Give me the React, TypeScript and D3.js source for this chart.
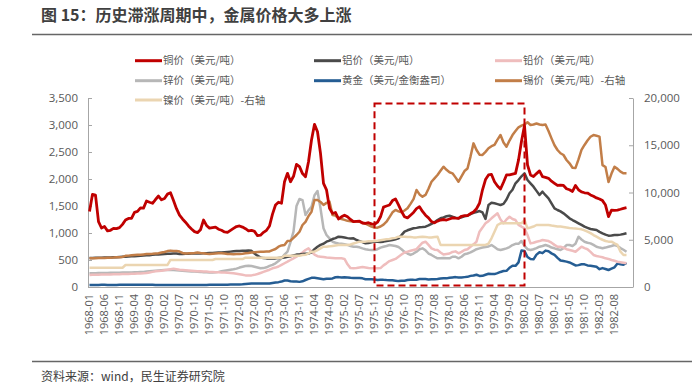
import React, { useRef, useEffect } from 'react'
import * as d3 from 'd3'

// monthly categories, 1968-01 .. 1982-12
const months = d3.range(180).map((i) => `${1968 + Math.floor(i / 12)}-${String((i % 12) + 1).padStart(2, '0')}`)

// 铜价 (USD/t, left axis)
const copper = [
  1400, 1716, 1700, 1210, 1093, 1120, 1040, 1050, 1085, 1080, 1100, 1160,
  1240, 1270, 1270, 1383, 1400, 1465, 1460, 1593, 1570, 1550, 1620, 1685,
  1615, 1640, 1720, 1746, 1600, 1450, 1330, 1260, 1200, 1130, 1075, 1025,
  1007, 1060, 1240, 1140, 1090, 1100, 1110, 1070, 1050, 1020, 1012, 1050,
  1086, 1120, 1130, 1110, 1080, 1040, 1050, 1030, 950, 960, 1012, 1050,
  1130, 1350, 1518, 1570, 1550, 1950, 2105, 1950, 2050, 2272, 2230, 2100,
  2043, 2320, 2722, 3012, 2876, 2475, 1920, 1800, 1457, 1364, 1380, 1260,
  1300, 1330, 1300, 1250, 1210, 1215, 1220, 1185, 1180, 1190, 1170, 1160,
  1200, 1300, 1480, 1500, 1518, 1600, 1630, 1520, 1400, 1302, 1280, 1330,
  1380, 1450, 1487, 1400, 1330, 1280, 1210, 1190, 1220, 1240, 1250, 1240,
  1260, 1280, 1275, 1272, 1310, 1320, 1320, 1360, 1390, 1450, 1550, 1800,
  1990, 2075, 2085, 1950, 1870, 1815, 1940, 2075, 2075, 2090, 2105, 2350,
  2700, 2990, 2260, 2075, 2045, 2100, 2150, 2045, 2030, 2012, 1960, 1920,
  1880, 1885, 1880, 1820, 1800, 1770, 1880, 1800, 1760, 1745, 1740, 1705,
  1680, 1650, 1630, 1600, 1518, 1302, 1425, 1420, 1425, 1440, 1457, 1470,
]

// 铝价 (left)
const aluminum = [
  535, 535, 540, 540, 540, 545, 545, 545, 550, 550, 555, 560,
  560, 565, 570, 570, 575, 580, 585, 590, 590, 595, 600, 600,
  605, 610, 615, 615, 620, 620, 610, 610, 615, 615, 620, 620,
  620, 620, 625, 625, 630, 630, 635, 640, 640, 645, 650, 655,
  660, 665, 665, 670, 670, 675, 670, 620, 580, 545, 535, 530,
  530, 530, 530, 535, 540, 545, 560, 570, 585, 600, 600, 610,
  615, 620, 640, 700, 746, 780, 800, 839, 860, 889, 905, 932,
  925, 915, 905, 900, 902, 870, 850, 830, 808, 815, 830, 840,
  840, 835, 840, 850, 860, 870, 885, 902, 960, 1025, 1050, 1070,
  1087, 1095, 1105, 1110, 1117, 1140, 1170, 1198, 1240, 1272, 1290, 1310,
  1320, 1300, 1285, 1272, 1290, 1310, 1320, 1350, 1375, 1390, 1407, 1380,
  1260, 1518, 1560, 1550, 1535, 1519, 1540, 1620, 1735, 1800, 1920, 1980,
  2050, 2106, 1982, 1920, 1858, 1780, 1704, 1765, 1700, 1642, 1550, 1457,
  1426, 1400, 1364, 1320, 1272, 1240, 1210, 1180, 1150, 1117, 1095, 1074,
  1065, 1055, 1020, 994, 970, 951, 955, 963, 965, 970, 980, 994,
]

// 铅价 (left)
const lead = [
  222, 225, 225, 228, 230, 230, 232, 232, 235, 235, 238, 240,
  240, 242, 245, 245, 248, 250, 255, 260, 270, 280, 290, 295,
  300, 310, 320, 330, 340, 330, 320, 315, 310, 305, 300, 295,
  290, 290, 285, 285, 280, 280, 275, 275, 270, 270, 265, 260,
  255, 245, 235, 225, 215, 212, 215, 225, 240, 260, 280, 300,
  320, 346, 360, 380, 410, 440, 469, 500, 530, 562, 600, 640,
  685, 716, 650, 600, 570, 562, 555, 545, 540, 535, 531, 531,
  531, 520, 420, 350, 346, 350, 360, 370, 360, 350, 346, 346,
  346, 350, 400, 438, 480, 500, 520, 560, 600, 640, 654, 670,
  685, 700, 760, 820, 839, 780, 716, 690, 685, 640, 600, 610,
  620, 650, 660, 624, 650, 685, 700, 746, 790, 839, 1024, 1100,
  1180, 1220, 1272, 1320, 1364, 1250, 1180, 1250, 1302, 1260, 1240, 1150,
  1117, 1086, 963, 808, 820, 839, 850, 870, 860, 850, 820, 780,
  746, 746, 730, 700, 685, 670, 654, 700, 746, 720, 700, 650,
  593, 575, 562, 550, 531, 520, 500, 485, 469, 460, 450, 440,
]

// 锌价 (left)
const zinc = [
  253, 255, 255, 258, 258, 260, 260, 262, 262, 265, 265, 268,
  268, 270, 270, 272, 275, 278, 280, 285, 290, 295, 300, 305,
  310, 315, 315, 318, 315, 310, 305, 300, 295, 290, 288, 285,
  282, 280, 275, 272, 270, 270, 272, 280, 290, 300, 310, 320,
  327, 340, 360, 376, 390, 395, 390, 375, 360, 346, 350, 365,
  390, 410, 438, 480, 531, 600, 654, 830, 1024, 1500, 1630, 1610,
  1333, 1420, 1487, 1700, 1778, 1457, 1087, 963, 900, 839, 820, 808,
  800, 790, 780, 760, 746, 746, 735, 716, 700, 690, 685, 685,
  700, 730, 746, 760, 777, 770, 760, 740, 700, 650, 620, 593,
  620, 654, 700, 716, 680, 620, 593, 560, 531, 531, 535, 531,
  531, 560, 560, 531, 560, 605, 620, 640, 670, 700, 715, 730,
  740, 750, 777, 740, 700, 685, 700, 716, 740, 777, 800, 800,
  852, 760, 700, 685, 700, 720, 746, 760, 777, 760, 730, 716,
  700, 685, 720, 777, 777, 760, 800, 932, 880, 839, 820, 808,
  780, 746, 730, 716, 730, 746, 760, 777, 760, 720, 690, 654,
]

// 黄金 (USD/oz, left)
const gold = [
  35, 37, 38, 38, 40, 41, 39, 39, 39, 39, 40, 41,
  42, 42, 43, 43, 43, 41, 42, 41, 41, 40, 36, 35,
  35, 35, 36, 36, 36, 36, 35, 35, 36, 37, 37, 37,
  38, 38, 38, 39, 40, 40, 41, 42, 42, 42, 43, 44,
  46, 48, 48, 49, 54, 60, 65, 67, 65, 64, 63, 64,
  65, 74, 84, 90, 100, 120, 120, 106, 103, 100, 95, 106,
  130, 150, 170, 172, 163, 154, 143, 154, 151, 158, 181, 183,
  176, 179, 178, 170, 167, 165, 166, 160, 144, 143, 142, 139,
  131, 132, 132, 128, 126, 125, 117, 109, 114, 116, 130, 134,
  132, 136, 148, 149, 146, 141, 143, 145, 149, 158, 162, 160,
  173, 178, 183, 175, 177, 183, 188, 206, 212, 227, 206, 207,
  227, 245, 242, 239, 257, 279, 295, 300, 355, 392, 392, 456,
  675, 665, 555, 517, 513, 600, 645, 627, 674, 661, 623, 595,
  540, 490, 480, 470, 455, 430, 400, 405, 420, 420, 400, 395,
  384, 374, 330, 350, 334, 315, 339, 364, 436, 422, 414, 444,
]

// 锡价 (right axis)
const tin = [
  3040, 3050, 3050, 3060, 3070, 3080, 3100, 3100, 3120, 3150, 3150, 3180,
  3300, 3320, 3350, 3380, 3400, 3420, 3450, 3480, 3500, 3520, 3550, 3580,
  3650, 3700, 3800, 3850, 3800, 3820, 3750, 3600, 3550, 3560, 3580, 3600,
  3650, 3600, 3560, 3520, 3500, 3520, 3540, 3560, 3580, 3550, 3500, 3480,
  3460, 3480, 3500, 3520, 3560, 3600, 3650, 3680, 3700, 3720, 3740, 3760,
  3760, 3900, 4020, 4270, 4400, 4450, 4870, 4900, 5200, 5500, 5850, 6560,
  6900, 7500, 7970, 9200, 9200, 9000, 8680, 8900, 9030, 7620, 7550, 7300,
  7200, 7100, 7000, 6950, 6900, 6950, 6900, 6800, 6700, 6550, 6400, 6300,
  6280, 6400, 6600, 6910, 7400, 7900, 8150, 8000, 7900, 8100, 8330, 8800,
  9300, 10260, 9800, 9560, 9740, 10400, 11140, 11500, 11850, 12300, 12730, 12400,
  12140, 12030, 11600, 11140, 11700, 12270, 12540, 13800, 15200, 14500, 14000, 13970,
  14300, 14680, 14900, 15030, 15600, 16080, 15300, 14850, 15500, 16080, 16500, 16900,
  17070, 17200, 17430, 17140, 17200, 17300, 17200, 17140, 17200, 16500, 15730, 15000,
  14500, 14150, 13970, 13440, 13090, 12620, 12600, 13500, 14500, 15030, 15500, 15900,
  16080, 16000, 15910, 12900, 12700, 11100, 12000, 12730, 12500, 12200, 12030, 12030,
]

// 镍价 (right axis)
const nickel = [
  2040, 2040, 2040, 2040, 2040, 2040, 2040, 2040, 2040, 2040, 2040, 2040,
  2330, 2330, 2330, 2330, 2330, 2330, 2330, 2330, 2330, 2330, 2330, 2330,
  2330, 2330, 2330, 2860, 2860, 2860, 2860, 2860, 2860, 2860, 2860, 2860,
  2860, 2860, 2860, 2860, 2860, 2860, 2960, 2960, 2960, 2960, 2960, 2960,
  2960, 2960, 2960, 2960, 3100, 3100, 3100, 3100, 3100, 3100, 3100, 3100,
  3100, 3100, 3100, 3100, 3100, 3310, 3310, 3310, 3310, 3310, 3310, 3390,
  3400, 3560, 3740, 3740, 3910, 4090, 4270, 4270, 4300, 4350, 4400, 4450,
  4450, 4450, 4450, 4500, 4600, 4700, 4800, 4800, 4800, 4850, 4850, 4870,
  4900, 4950, 5000, 5050, 5080, 5150, 5200, 5330, 5330, 5330, 5300, 5300,
  5250, 5250, 5300, 5330, 5300, 5250, 5230, 5300, 5330, 4450, 4450, 4450,
  4450, 4450, 4450, 4450, 4450, 4450, 4450, 4450, 4450, 4450, 4450, 4450,
  4450, 4600, 5150, 5850, 6560, 6740, 6740, 6740, 6740, 6740, 6740, 6740,
  6740, 7090, 6210, 6300, 6400, 6560, 6560, 6560, 6560, 6560, 6500, 6450,
  6400, 6390, 6350, 6300, 6250, 6210, 6200, 6150, 6100, 6000, 5860, 5700,
  5500, 5330, 5150, 5000, 4870, 4800, 4800, 4620, 4450, 3740, 3390, 3390,
]

const leftTicks = [0, 500, 1000, 1500, 2000, 2500, 3000, 3500]
const rightTicks = [0, 5000, 10000, 15000, 20000]

// highlighted stagflation window
const highlight = { from: '1975-12', to: '1980-02', top: 3400, bottom: 30 }

const series = [
  { name: '铜价（美元/吨）', values: copper, color: '#C00000', axis: 'left', z: 6 },
  { name: '铝价（美元/吨）', values: aluminum, color: '#4A4A4A', axis: 'left', z: 3 },
  { name: '铅价（美元/吨）', values: lead, color: '#EFBDBD', axis: 'left', z: 2 },
  { name: '锌价（美元/吨）', values: zinc, color: '#B7B7B7', axis: 'left', z: 1 },
  { name: '黄金（美元/金衡盎司）', values: gold, color: '#255D93', axis: 'left', z: 0 },
  { name: '锡价（美元/吨）-右轴', values: tin, color: '#C27E48', axis: 'right', z: 5 },
  { name: '镍价（美元/吨）-右轴', values: nickel, color: '#EBD5B1', axis: 'right', z: 4 },
]

const FONT = '"Open Sans", "Noto Sans CJK SC", sans-serif'
const CJK = '"Noto Sans CJK SC", sans-serif'

const App = () => {
  const svgRef = useRef(null)

  useEffect(() => {
    document.body.style.margin = '0'
    const svg = d3.select(svgRef.current)
    svg.selectAll('*').remove()

    const left = 88, right = 633, top = 98, bottom = 287

    const x = d3.scalePoint().domain(months).range([89.5, 626.5])
    const yL = d3.scaleLinear().domain([0, 3500]).range([bottom, top])
    const yR = d3.scaleLinear().domain([0, 20000]).range([bottom, top])

    svg.append('rect').attr('width', 700).attr('height', 392).attr('fill', '#fff')

    // title + rules
    svg.append('text')
      .attr('x', 41).attr('y', 21)
      .attr('font-family', CJK).attr('font-size', 16).attr('font-weight', 'bold')
      .attr('fill', '#404040')
      .text('图 15：历史滞涨周期中，金属价格大多上涨')
    svg.append('line').attr('x1', 32).attr('x2', 692).attr('y1', 34.5).attr('y2', 34.5)
      .attr('stroke', '#666').attr('stroke-width', 1.5)
    svg.append('line').attr('x1', 32).attr('x2', 692).attr('y1', 361.5).attr('y2', 361.5)
      .attr('stroke', '#666').attr('stroke-width', 1.5)
    svg.append('text')
      .attr('x', 41).attr('y', 381)
      .attr('font-family', CJK).attr('font-size', 12)
      .attr('fill', '#404040')
      .text('资料来源：wind，民生证券研究院')

    // axes
    const axisL = svg.append('g').attr('transform', `translate(${left},0)`)
      .call(d3.axisLeft(yL).tickValues(leftTicks).tickSize(-4).tickSizeOuter(0).tickPadding(10).tickFormat(d3.format(',')))
    const axisR = svg.append('g').attr('transform', `translate(${right},0)`)
      .call(d3.axisRight(yR).tickValues(rightTicks).tickSize(-4).tickSizeOuter(0).tickPadding(11).tickFormat(d3.format(',')))
    ;[axisL, axisR].forEach((g) => {
      g.select('.domain').attr('stroke', '#A6A6A6')
      g.selectAll('.tick line').attr('stroke', '#A6A6A6')
      g.selectAll('.tick text').attr('fill', '#595959').attr('font-family', FONT).attr('font-size', 11.5)
    })
    svg.append('line').attr('x1', left).attr('x2', right).attr('y1', bottom + 0.5).attr('y2', bottom + 0.5)
      .attr('stroke', '#A6A6A6')

    svg.append('g').selectAll('text')
      .data(months.filter((_, i) => i % 5 === 0))
      .join('text')
      .attr('transform', (d) => `translate(${x(d)},294) rotate(-90)`)
      .attr('text-anchor', 'end')
      .attr('dy', '0.35em')
      .attr('font-family', FONT).attr('font-size', 11)
      .attr('fill', '#595959')
      .text((d) => d)

    // lines
    const ordered = [...series].sort((a, b) => a.z - b.z)
    ordered.forEach((s) => {
      const yS = s.axis === 'left' ? yL : yR
      const line = d3.line().x((_, i) => x(months[i])).y((d) => yS(d))
      svg.append('path')
        .datum(s.values)
        .attr('d', line)
        .attr('fill', 'none')
        .attr('stroke', s.color)
        .attr('stroke-width', s.name.startsWith('铜') ? 2.8 : 2.5)
        .attr('stroke-linejoin', 'round')
    })

    // dashed box
    const x0 = x(highlight.from), x1 = x(highlight.to)
    svg.append('rect')
      .attr('x', x0).attr('y', yL(highlight.top))
      .attr('width', x1 - x0).attr('height', yL(highlight.bottom) - yL(highlight.top))
      .attr('fill', 'none').attr('stroke', '#C00000').attr('stroke-width', 2)
      .attr('stroke-dasharray', '7 4')

    // legend
    const colX = [135, 314, 495]
    const rowY = [60.7, 80.7, 100]
    const lg = svg.append('g').selectAll('g').data(series).join('g')
      .attr('transform', (_, i) => `translate(${colX[i % 3]},${rowY[Math.floor(i / 3)]})`)
    lg.append('line').attr('x1', 0).attr('x2', 27).attr('stroke', (d) => d.color).attr('stroke-width', 3)
    lg.append('text').attr('x', 28).attr('dy', '0.35em')
      .attr('font-family', CJK).attr('font-size', 10.5).attr('fill', '#595959')
      .text((d) => d.name)
  }, [])

  return <svg ref={svgRef} width={700} height={392} style={{ display: 'block' }} />
}

export default App
